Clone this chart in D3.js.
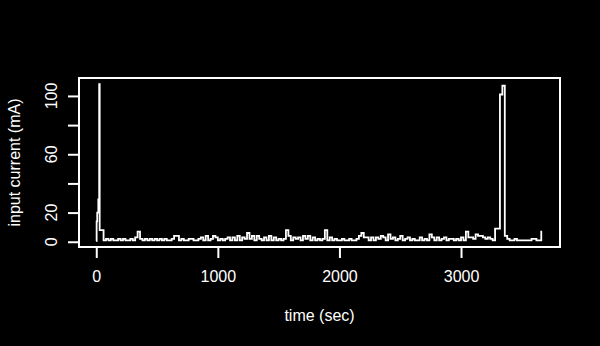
<!DOCTYPE html>
<html>
<head>
<meta charset="utf-8">
<script src="https://cdn.jsdelivr.net/npm/d3@7"></script>
<style>
  body { margin: 0; background: #000; }
  text { font-family: "Liberation Sans", Arial, sans-serif; fill: #fff; }
</style>
</head>
<body>
<div id="chart"></div>
<script>
// Our canvas
const width = 600,
  height = 346

// start-up burst (sec, mA)
const startTimes = [0, 3, 8, 17, 24, 28]
const startValues = [0.5, 14, 20, 29, 108, 8]

// regular samples every 20 s from 60 s on
const sampleStart = 60,
  sampleStep = 20
const sampleValues = [
  1, 2, 1, 2, 1, 1, 2, 1, 2, 1,
  1, 2, 1, 3, 7, 2, 1, 2, 1, 2,
  1, 2, 1, 2, 1, 2, 1, 1, 2, 4,
  4, 1, 2, 1, 1, 2, 2, 1, 1, 2,
  3, 1, 4, 1, 2, 4, 3, 1, 2, 1,
  2, 3, 1, 3, 1, 4, 1, 3, 2, 6,
  2, 4, 1, 4, 2, 1, 3, 1, 4, 1,
  3, 1, 2, 1, 2, 8, 4, 1, 3, 2,
  3, 1, 4, 2, 4, 1, 3, 1, 2, 1,
  2, 8, 1, 3, 1, 2, 1, 1, 2, 1,
  1, 2, 1, 1, 2, 4, 6, 3, 3, 1,
  3, 1, 3, 2, 4, 3, 1, 5, 2, 3,
  1, 2, 4, 1, 2, 3, 1, 2, 1, 1,
  3, 1, 2, 1, 5, 3, 1, 3, 1, 2,
  3, 1, 2, 2, 1, 2, 1, 3, 1, 7,
  3, 3, 2, 5, 4, 4, 3, 2, 3, 2,
  1, 9, 9, 101, 107, 4, 2, 1, 1, 2,
  1, 1, 1, 1, 1, 1, 2, 2, 1, 1, 7
]
const endTime = 3667

const xTicks = [0, 1000, 2000, 3000]
const yTicks = [0, 20, 40, 60, 80, 100]
const yTickLabels = [0, 20, 60, 100]

let data = startTimes.map((t, i) => ({ t: t, v: startValues[i] }))
sampleValues.forEach((v, i) => data.push({ t: sampleStart + i * sampleStep, v: v }))
data.push({ t: endTime, v: sampleValues[sampleValues.length - 1] })

// Drawing area
const plotLeft = 79, plotRight = 560, plotTop = 78, plotBottom = 247

let svg = d3.select('#chart')
  .append('svg')
  .attr('width', width)
  .attr('height', height)

svg.append('rect')
  .attr('width', width)
  .attr('height', height)
  .attr('fill', '#000')

const xScale = d3.scaleLinear()
  .domain([-142, 3814])
  .range([plotLeft, plotRight])

const yScale = d3.scaleLinear()
  .domain([-3.6, 112.3])
  .range([plotBottom, plotTop])

const line = d3.line()
  .x(d => xScale(d.t))
  .y(d => yScale(d.v))
  .curve(d3.curveStepAfter)

svg.append('path')
  .datum(data)
  .attr('d', line)
  .attr('fill', 'none')
  .attr('stroke', '#fff')
  .attr('stroke-width', 1.8)

// box
svg.append('rect')
  .attr('x', plotLeft)
  .attr('y', plotTop)
  .attr('width', plotRight - plotLeft)
  .attr('height', plotBottom - plotTop)
  .attr('fill', 'none')
  .attr('stroke', '#fff')
  .attr('stroke-width', 2)

// axes
const xAxis = d3.axisBottom(xScale).tickValues(xTicks).tickFormat(d3.format('d'))
  .tickSize(11).tickPadding(13)
const yAxis = d3.axisLeft(yScale).tickValues(yTicks).tickSize(11).tickFormat('')

let gx = svg.append('g')
  .attr('transform', `translate(0,${plotBottom})`)
  .call(xAxis)
gx.select('.domain').attr('stroke', '#fff').attr('stroke-width', 2)
  .attr('d', `M${xScale(0)},0H${xScale(3000)}`)
gx.selectAll('line').attr('stroke', '#fff').attr('stroke-width', 2)
gx.selectAll('text').attr('font-size', 16).attr('fill', '#fff')
  .attr('font-family', '"Liberation Sans", Arial, sans-serif')

let gy = svg.append('g')
  .attr('transform', `translate(${plotLeft},0)`)
  .call(yAxis)
gy.select('.domain').attr('stroke', '#fff').attr('stroke-width', 2)
  .attr('d', `M0,${yScale(0)}V${yScale(100)}`)
gy.selectAll('line').attr('stroke', '#fff').attr('stroke-width', 2)

svg.selectAll('.ylab')
  .data(yTickLabels)
  .enter()
  .append('text')
  .attr('class', 'ylab')
  .attr('transform', d => `translate(57,${yScale(d)}) rotate(-90)`)
  .attr('text-anchor', 'middle')
  .attr('font-size', 16)
  .text(d => d)

// titles
svg.append('text')
  .attr('x', (plotLeft + plotRight) / 2)
  .attr('y', 321)
  .attr('text-anchor', 'middle')
  .attr('font-size', 16)
  .text('time (sec)')

svg.append('text')
  .attr('transform', `translate(20,${(plotTop + plotBottom) / 2}) rotate(-90)`)
  .attr('text-anchor', 'middle')
  .attr('font-size', 16)
  .text('input current (mA)')
</script>
</body>
</html>
